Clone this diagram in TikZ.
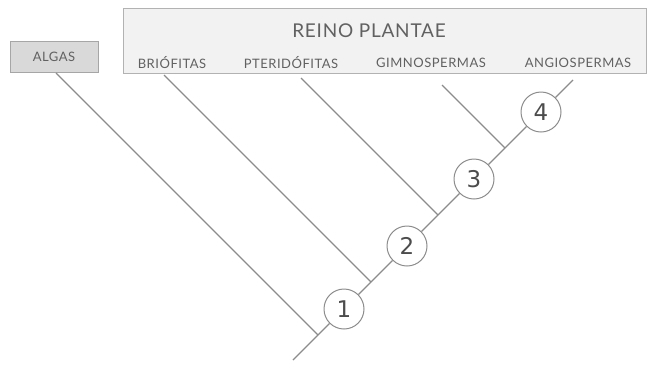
\documentclass[tikz,border=0pt]{standalone}
\usepackage{fontspec}
\setmainfont{Lato}
\newfontfamily\rotulo[LetterSpace=4]{Lato}
\newfontfamily\numfont{DejaVu Sans}
\usetikzlibrary{positioning,calc}

\begin{document}
\begin{tikzpicture}[x=1pt, y=-1pt,
    ramo/.style={draw=black!45, line width=1.1pt},
    grupo/.style={text=black!62, font=\rotulo\fontsize{13}{15}\selectfont, inner sep=1pt},
    passo/.style={circle, draw=black!45, fill=white, line width=1pt, minimum size=40pt, inner sep=0pt, text=black!70, font=\numfont\fontsize{23}{25}\selectfont}]
  \useasboundingbox (0,0) rectangle (651,365);
  % caixas
  \node[draw=black!30, fill=black!5, minimum width=523pt, minimum height=65pt, anchor=north west] (reino) at (123,8) {};
  \node[text=black!62, font=\rotulo\fontsize{19}{21}\selectfont] (titulo) at (369,31) {REINO PLANTAE};
  \node[draw=black!35, fill=black!15, minimum width=88pt, minimum height=31pt, grupo] (algas) at (54,57) {ALGAS};
  \node[grupo] (brio) at (172,63) {BRIÓFITAS};
  \node[grupo] (pter) at (291,63) {PTERIDÓFITAS};
  \node[grupo] (gimno) at (431,63) {GIMNOSPERMAS};
  \node[grupo] (angio) at (578,63) {ANGIOSPERMAS};
  % eixo principal
  \coordinate (base) at (293,360);
  \coordinate (topo) at (573,80);
  \node[passo] (n1) at (344,309) {1};
  \node[passo] (n2) at (407,246) {2};
  \node[passo] (n3) at (474,179) {3};
  \node[passo] (n4) at (541,112) {4};
  \draw[ramo] (base) -- (n1) -- (n2) -- (n3) -- (n4) -- (topo);
  % ramos
  \coordinate (jA) at (318,335);
  \coordinate (jB) at (371,282);
  \coordinate (jP) at (438,215);
  \coordinate (jG) at (505,148);
  \coordinate (tA) at (56,73);
  \coordinate (tB) at (164,75);
  \coordinate (tP) at (301,78);
  \coordinate (tG) at (442,85);
  \draw[ramo] (jA) -- (tA);
  \draw[ramo] (jB) -- (tB);
  \draw[ramo] (jP) -- (tP);
  \draw[ramo] (jG) -- (tG);
\end{tikzpicture}
\end{document}
